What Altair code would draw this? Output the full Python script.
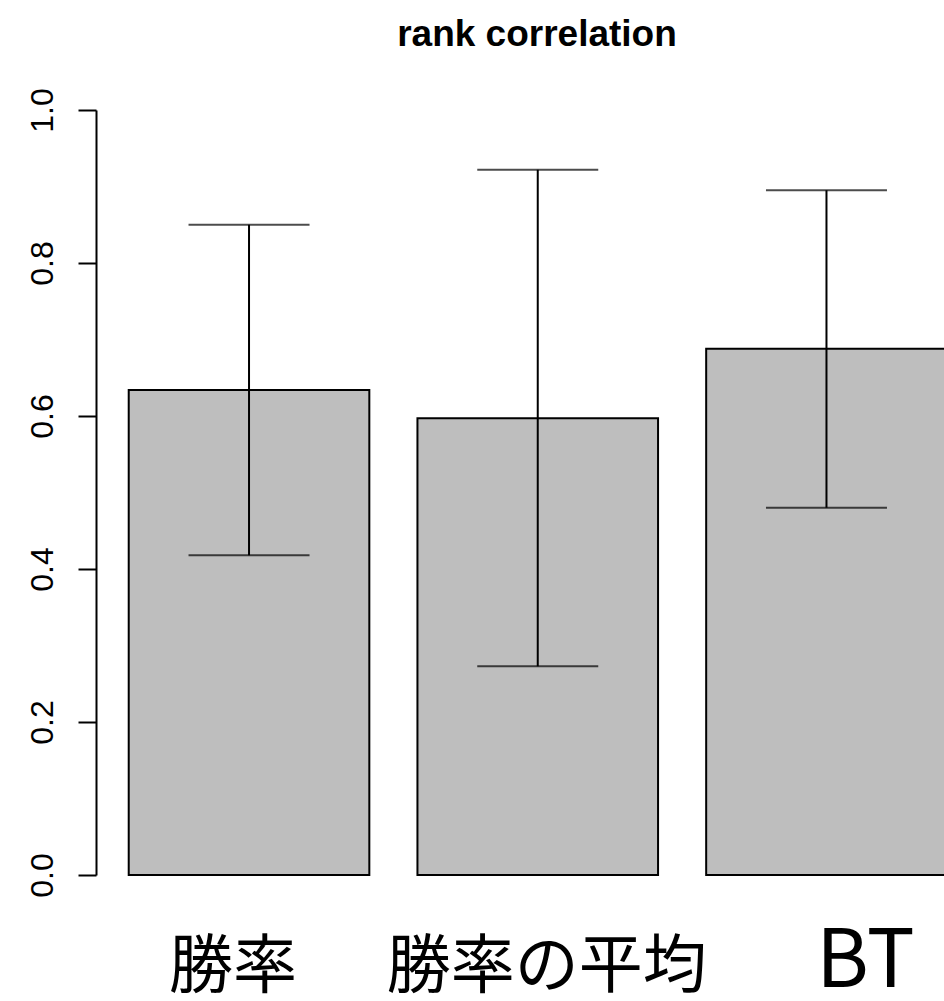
import altair as alt
import pandas as pd

methods = ["勝率", "勝率の平均", "BT"]
means = [0.634, 0.597, 0.688]
lower = [0.418, 0.273, 0.480]
upper = [0.850, 0.922, 0.895]
y_ticks = [0.0, 0.2, 0.4, 0.6, 0.8, 1.0]

df = pd.DataFrame({"method": methods, "mean": means, "lo": lower, "hi": upper})

xscale = alt.Scale(domain=methods, range=[0, 883.5], paddingInner=0.2 / 1.2, paddingOuter=0.136 / 1.2)
yscale = alt.Scale(domain=[0, 1], nice=False, zero=True)

x_axis = alt.Axis(
    title=None, domain=False, ticks=False, tickSize=0, labelAngle=0, grid=False,
    labelFont="Noto Sans CJK JP", labelColor="black", labelLimit=0, labelOverlap=False,
    labelFontSize={"expr": "datum.value === 'BT' ? 80 : 64"},
    labelOffset={"expr": "datum.value === 'BT' ? 39 : (datum.value === '勝率' ? -16 : 9)"},
    labelBaseline="alphabetic", labelPadding=111, labelAlign="center",
)
y_axis = alt.Axis(
    title=None, values=y_ticks, format=".1f", grid=False,
    labelAngle=270, labelAlign="center", labelBaseline="alphabetic",
    labelFont="Liberation Sans", labelFontSize=32, labelColor="black",
    labelPadding=26, tickSize=18, tickColor="black", tickWidth=2,
    domainColor="black", domainWidth=2,
)

x = alt.X("method:N", scale=xscale, axis=x_axis, sort=methods)

bars = alt.Chart(df).mark_bar(fill="#bebebe", stroke="black", strokeWidth=2).encode(
    x=x, y=alt.Y("mean:Q", scale=yscale, axis=y_axis)
)
err = alt.Chart(df).mark_rule(color="black", strokeWidth=2).encode(
    x=alt.X("method:N", scale=xscale, sort=methods),
    y=alt.Y("lo:Q", scale=yscale), y2="hi:Q"
)
cap_hi = alt.Chart(df).mark_tick(color="black", thickness=2, size=121, orient="horizontal").encode(
    x=alt.X("method:N", scale=xscale, sort=methods),
    y=alt.Y("hi:Q", scale=yscale)
)
cap_lo = alt.Chart(df).mark_tick(color="black", thickness=2, size=121, orient="horizontal").encode(
    x=alt.X("method:N", scale=xscale, sort=methods),
    y=alt.Y("lo:Q", scale=yscale)
)

chart = alt.layer(bars, err, cap_hi, cap_lo).properties(
    width=848, height=765,
    background="white",
    title=alt.TitleParams("rank correlation", font="Liberation Sans", fontSize=37,
                          fontWeight="bold", color="black", anchor="middle", dx=17,
                          offset=34),
    autosize=alt.AutoSizeParams(type="none"),
    padding={"left": 96, "top": 110, "right": 0, "bottom": 126},
).configure_view(stroke=None, strokeWidth=0)

chart.save("out.html", embed_options={"renderer": "svg", "actions": False})
